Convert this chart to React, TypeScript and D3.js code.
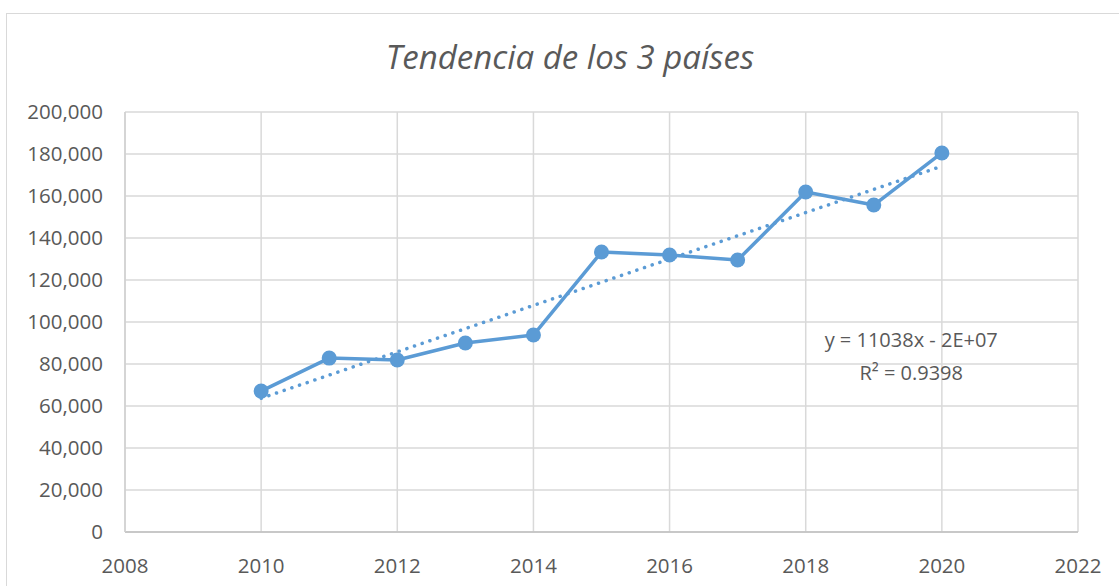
import { useMemo } from 'react';
import * as d3 from 'd3';

const WIDTH = 1119;
const HEIGHT = 586;
const MARGIN = { top: 112, right: 41, bottom: 54, left: 125 };

const FONT = "'Open Sans', 'Noto Sans', sans-serif";
const TEXT_COLOR = '#595959';
const GRID_COLOR = '#d9d9d9';
const SERIES_COLOR = '#5b9bd5';

const years = [2010, 2011, 2012, 2013, 2014, 2015, 2016, 2017, 2018, 2019, 2020];
const values = [67100, 82800, 81900, 90000, 93800, 133300, 131900, 129500, 161900, 155700, 180500];

const xTicks = [2008, 2010, 2012, 2014, 2016, 2018, 2020, 2022];
const yTicks = [0, 20000, 40000, 60000, 80000, 100000, 120000, 140000, 160000, 180000, 200000];

const title = 'Tendencia de los 3 países';
const equationLabel = 'y = 11038x - 2E+07';
const r2Label = 'R² = 0.9398';

export default function App() {
  const innerW = WIDTH - MARGIN.left - MARGIN.right;
  const innerH = HEIGHT - MARGIN.top - MARGIN.bottom;

  const xScale = d3.scaleLinear().domain([2008, 2022]).range([0, innerW]);
  const yScale = d3.scaleLinear().domain([0, 200000]).range([innerH, 0]);

  const data = years.map((year, i) => ({ year, value: values[i] }));

  // least squares trendline, like excel's linear trend
  const trend = useMemo(() => {
    const mx = d3.mean(years)!;
    const my = d3.mean(values)!;
    const num = d3.sum(years, (x, i) => (x - mx) * (values[i] - my));
    const den = d3.sum(years, (x) => (x - mx) ** 2);
    const slope = num / den;
    const intercept = my - slope * mx;
    return [years[0], years[years.length - 1]].map((x) => ({ year: x, value: slope * x + intercept }));
  }, []);

  const line = d3
    .line<{ year: number; value: number }>()
    .x((d) => xScale(d.year))
    .y((d) => yScale(d.value));

  const fmt = d3.format(',');

  return (
    <svg
      width={WIDTH}
      height={HEIGHT}
      style={{ position: 'absolute', left: 0, top: 0, background: '#fff' }}
      fontFamily={FONT}
    >
      <rect x={6.5} y={13.5} width={WIDTH} height={HEIGHT} fill="#fff" stroke="#d9d9d9" strokeWidth={1} />
      <text x={570} y={69} textAnchor="middle" fontSize={33} fontStyle="italic" fill={TEXT_COLOR}>
        {title}
      </text>
      <g transform={'translate(' + MARGIN.left + ',' + MARGIN.top + ')'}>
        {yTicks.map((t) => (
          <g key={'y' + t}>
            <line x1={0} x2={innerW} y1={yScale(t)} y2={yScale(t)} stroke={GRID_COLOR} strokeWidth={1.5} />
            <text x={-22} y={yScale(t)} dy="0.35em" textAnchor="end" fontSize={20.5} fill={TEXT_COLOR}>
              {fmt(t)}
            </text>
          </g>
        ))}
        {xTicks.map((t) => (
          <g key={'x' + t}>
            <line x1={xScale(t)} x2={xScale(t)} y1={0} y2={innerH} stroke={GRID_COLOR} strokeWidth={1.5} />
            <text x={xScale(t)} y={innerH + 41} textAnchor="middle" fontSize={20.5} fill={TEXT_COLOR}>
              {t}
            </text>
          </g>
        ))}
        <line x1={0} x2={innerW} y1={innerH} y2={innerH} stroke="#bfbfbf" strokeWidth={1.5} />
        <line x1={0} x2={0} y1={0} y2={innerH} stroke="#d0d0d0" strokeWidth={1.5} />

        <path d={line(data)!} fill="none" stroke={SERIES_COLOR} strokeWidth={3.5} strokeLinejoin="round" />
        {data.map((d) => (
          <circle key={d.year} cx={xScale(d.year)} cy={yScale(d.value)} r={7.5} fill={SERIES_COLOR} />
        ))}
        <path
          d={line(trend)!}
          fill="none"
          stroke={SERIES_COLOR}
          strokeWidth={3.5}
          strokeDasharray="0.1 8"
          strokeLinecap="round"
        />

        <text x={xScale(2019.55)} y={yScale(88000)} textAnchor="middle" fontSize={20} fill={TEXT_COLOR}>
          {equationLabel}
        </text>
        <text x={xScale(2019.55)} y={yScale(72600)} textAnchor="middle" fontSize={20} fill={TEXT_COLOR}>
          {r2Label}
        </text>
      </g>
    </svg>
  );
}
